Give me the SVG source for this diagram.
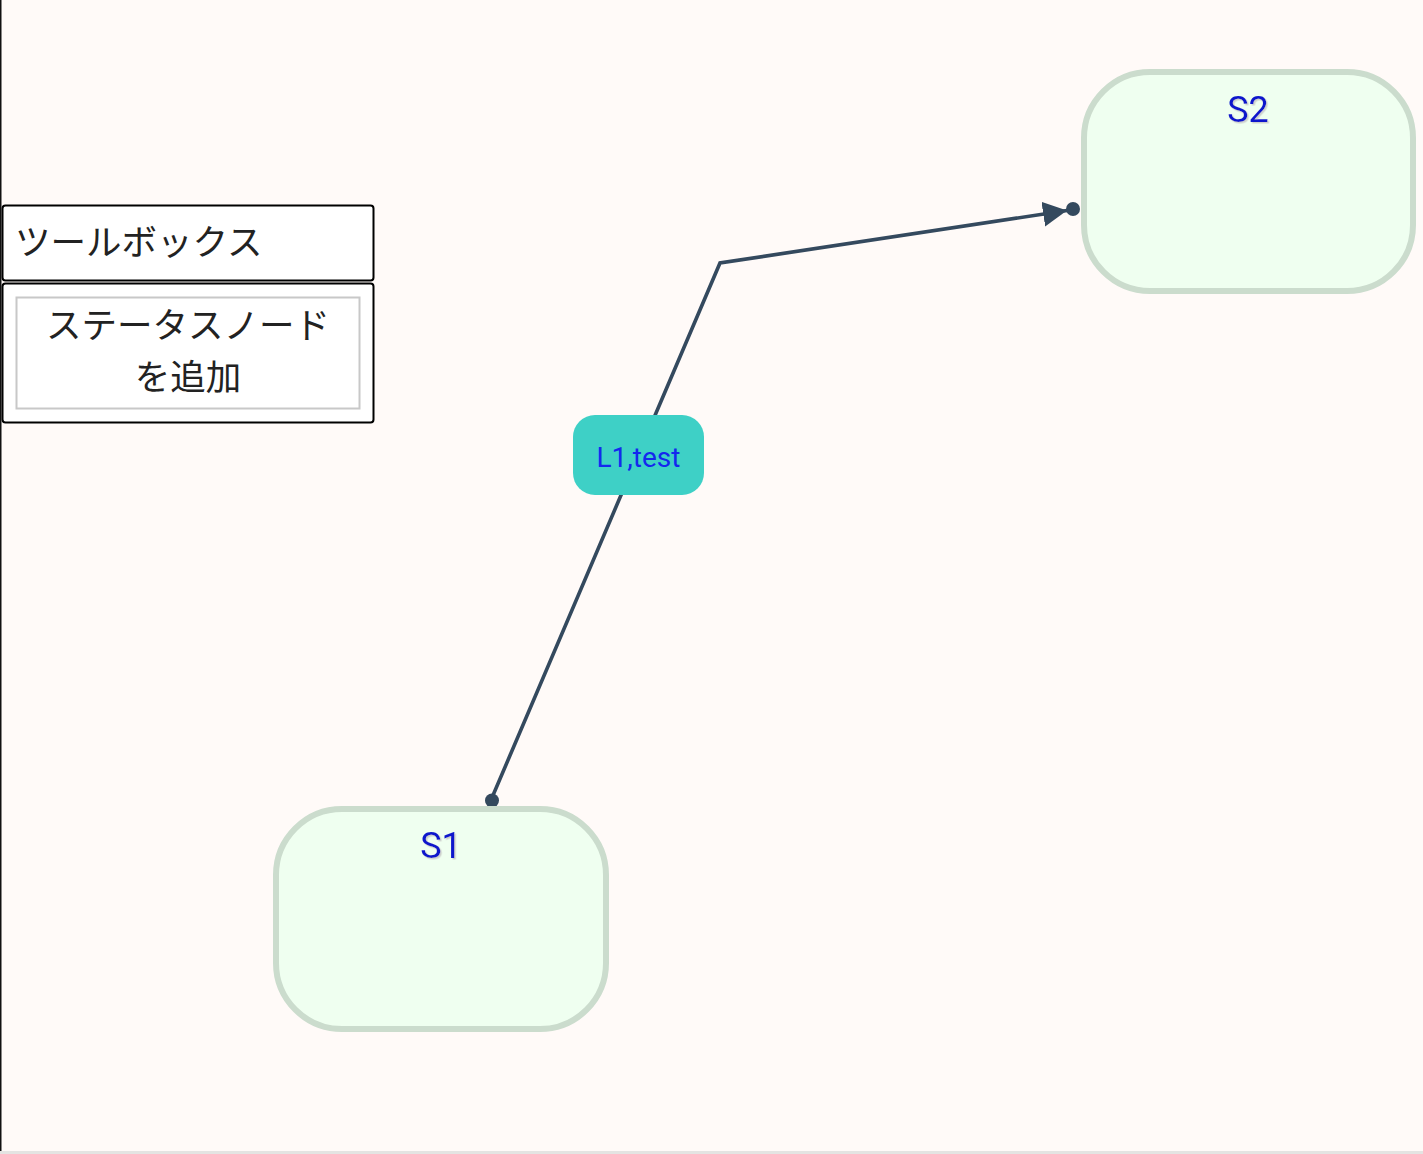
<svg xmlns="http://www.w3.org/2000/svg" width="1423" height="1154" viewBox="0 0 1423 1154">
  <style>
    .tb { fill: #ffffff; stroke: #000000; stroke-width: 2; }
    .jp { font-family: "Noto Sans CJK JP", "Noto Sans", sans-serif; fill: #222222; }
    .state { fill: #effff0; stroke: #cbdccd; stroke-width: 6; }
    .stitle { font-family: Roboto, "Liberation Sans", sans-serif; font-size: 36px; fill: #0a14cc; text-anchor: middle; }
    .edge { fill: none; stroke: #34495e; stroke-width: 3.6; stroke-linejoin: miter; }
    .dot { fill: #34495e; }
    .lbl { fill: #3ed0c6; }
    .ltext { font-family: Roboto, "Liberation Sans", sans-serif; font-size: 28px; fill: #1428ee; text-anchor: middle; }
  </style>
  <defs>
    <marker id="arrow" markerUnits="userSpaceOnUse" markerWidth="26" markerHeight="26" refX="24" refY="12.5" orient="auto" viewBox="0 0 26 26">
      <path d="M0,0 L24,12.5 L0,25 z" fill="#34495e"/>
    </marker>
    <filter id="shadow" x="-20%" y="-20%" width="140%" height="140%">
      <feDropShadow dx="1.5" dy="1.5" stdDeviation="0.6" flood-color="#c4c4c4" flood-opacity="0.8"/>
    </filter>
  </defs>
  <rect x="0" y="0" width="1423" height="1154" fill="#fffaf8"/>
  <rect x="0" y="0" width="1.5" height="1154" fill="#111111"/>
  <rect x="0" y="1151" width="1423" height="3" fill="#e4e4e2"/>

  <g id="toolbox">
    <rect class="tb" x="2.5" y="205.5" width="371" height="75" rx="3"/>
    <text class="jp" x="15" y="255" font-size="35.5">ツールボックス</text>
  </g>
  <g id="toolbox-panel">
    <rect class="tb" x="2.5" y="283.5" width="371" height="139" rx="3"/>
    <rect x="16.5" y="297.5" width="343" height="111" fill="#ffffff" stroke="#c8c8c8" stroke-width="2"/>
    <text class="jp" x="188" y="338" font-size="35.5" text-anchor="middle" fill="#111111">ステータスノード</text>
    <text class="jp" x="188" y="390" font-size="35.5" text-anchor="middle" fill="#111111">を追加</text>
  </g>

  <g id="connectors">
    <path class="edge" d="M491,800 L720,263 L1067,210.5" marker-end="url(#arrow)"/>
    <circle class="dot" cx="492" cy="800.5" r="7"/>
    <circle class="dot" cx="1073" cy="209" r="7"/>
    <g id="edge-label">
      <rect class="lbl" x="573" y="415" width="131" height="80" rx="22"/>
      <text class="ltext" x="638.5" y="467">L1,test</text>
    </g>
  </g>

  <g id="S1">
    <rect class="state" x="276" y="809" width="330" height="220" rx="66"/>
    <text class="stitle" x="441" y="858" filter="url(#shadow)">S1</text>
  </g>
  <g id="S2">
    <rect class="state" x="1084" y="72" width="329" height="219" rx="66"/>
    <text class="stitle" x="1248" y="122" filter="url(#shadow)">S2</text>
  </g>
</svg>
